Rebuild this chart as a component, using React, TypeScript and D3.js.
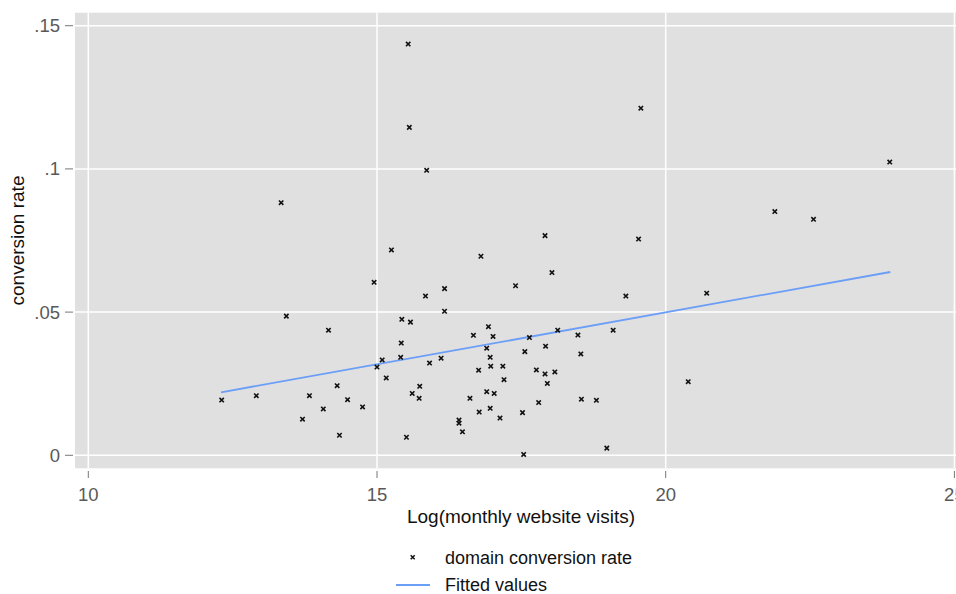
import React, { useEffect, useRef } from 'react';
import * as d3 from 'd3';

// log monthly visits vs conversion rate
const visits = [
  15.54, 15.56, 15.86, 13.34, 15.25, 14.95, 15.84, 16.17, 16.17, 13.43,
  14.16, 15.43, 15.58, 15.42, 15.41, 15.09, 15.0, 15.91, 16.11, 15.16,
  14.31, 15.74, 15.61, 15.73, 12.31, 12.91, 13.83, 14.49, 14.07, 14.75,
  13.71, 14.35, 15.51, 17.91, 19.53, 16.8, 18.03, 17.4, 19.31, 16.93,
  16.67, 17.01, 18.13, 18.48, 19.09, 17.64, 16.9, 17.92, 17.56, 18.53,
  16.96, 16.97, 17.18, 16.76, 17.76, 17.91, 18.08, 17.2, 17.95, 16.9,
  17.03, 16.61, 18.54, 18.8, 17.8, 16.77, 16.96, 17.52, 17.13, 16.42,
  16.42, 16.48, 17.54, 18.98, 20.39, 19.57, 23.88, 21.89, 22.56, 20.71,
];
const rates = [
  0.1436, 0.1145, 0.0995, 0.0882, 0.0717, 0.0604, 0.0556, 0.0582, 0.0503, 0.0486,
  0.0437, 0.0475, 0.0465, 0.0392, 0.0342, 0.0333, 0.0308, 0.0322, 0.0339, 0.027,
  0.0243, 0.0241, 0.0216, 0.0199, 0.0193, 0.0208, 0.0208, 0.0194, 0.0162, 0.0169,
  0.0126, 0.007, 0.0063, 0.0767, 0.0755, 0.0695, 0.0638, 0.0592, 0.0556, 0.0449,
  0.0419, 0.0415, 0.0437, 0.042, 0.0437, 0.0411, 0.0374, 0.0381, 0.0362, 0.0354,
  0.0342, 0.0311, 0.0311, 0.0297, 0.0298, 0.0284, 0.0291, 0.0264, 0.0251, 0.0222,
  0.0216, 0.0199, 0.0196, 0.0192, 0.0184, 0.0151, 0.0164, 0.0149, 0.013, 0.0123,
  0.0112, 0.0082, 0.0003, 0.0025, 0.0257, 0.1212, 0.1024, 0.0851, 0.0824, 0.0566,
];

// fitted line end points
const fitX = [12.3, 23.89];
const fitY = [0.022, 0.064];

const xTicks = [10, 15, 20, 25];
const yTicks = [0, 0.05, 0.1, 0.15];
const yTickLabels = ['0', '.05', '.1', '.15'];

const App = () => {
  const svgRef = useRef<SVGSVGElement>(null);

  useEffect(() => {
    const width = 956;
    const height = 594;
    const plot = { left: 75, right: 962, top: 12.7, bottom: 468.3 };
    const font = '"Liberation Sans", Arial, sans-serif';

    const svg = d3.select(svgRef.current)
      .attr('width', width)
      .attr('height', height);
    svg.selectAll('*').remove();

    const x = d3.scaleLinear().domain([10, 20]).range([88.3, 665.7]);
    const y = d3.scaleLinear().domain([0, 0.15]).range([455.3, 25.7]);

    svg.append('rect')
      .attr('width', width)
      .attr('height', height)
      .attr('fill', '#fff');

    // plot background
    svg.append('rect')
      .attr('x', plot.left)
      .attr('y', plot.top)
      .attr('width', plot.right - plot.left)
      .attr('height', plot.bottom - plot.top)
      .attr('fill', '#e0e0e0');

    // grid
    svg.append('g')
      .selectAll('line')
      .data(yTicks)
      .enter().append('line')
      .attr('x1', plot.left)
      .attr('x2', plot.right)
      .attr('y1', d => y(d))
      .attr('y2', d => y(d))
      .attr('stroke', '#fff')
      .attr('stroke-width', 1.5);

    svg.append('g')
      .selectAll('line')
      .data(xTicks)
      .enter().append('line')
      .attr('x1', d => x(d))
      .attr('x2', d => x(d))
      .attr('y1', plot.top)
      .attr('y2', plot.bottom)
      .attr('stroke', '#fff')
      .attr('stroke-width', 1.5);

    // y axis ticks + labels
    const yAxis = svg.append('g');
    yAxis.selectAll('line')
      .data(yTicks)
      .enter().append('line')
      .attr('x1', 65)
      .attr('x2', 73)
      .attr('y1', d => y(d))
      .attr('y2', d => y(d))
      .attr('stroke', '#777')
      .attr('stroke-width', 1);
    yAxis.selectAll('text')
      .data(yTicks)
      .enter().append('text')
      .attr('x', 60)
      .attr('y', d => y(d))
      .attr('dy', '0.35em')
      .attr('text-anchor', 'end')
      .style('font-family', font)
      .style('font-size', '18.5px')
      .attr('fill', '#595959')
      .text((d, i) => yTickLabels[i]);

    // x axis ticks + labels
    const xAxis = svg.append('g');
    xAxis.selectAll('line')
      .data(xTicks)
      .enter().append('line')
      .attr('x1', d => x(d))
      .attr('x2', d => x(d))
      .attr('y1', 471)
      .attr('y2', 478)
      .attr('stroke', '#777')
      .attr('stroke-width', 1);
    xAxis.selectAll('text')
      .data(xTicks)
      .enter().append('text')
      .attr('x', d => x(d))
      .attr('y', 495)
      .attr('dy', '0.35em')
      .attr('text-anchor', 'middle')
      .style('font-family', font)
      .style('font-size', '18.5px')
      .attr('fill', '#595959')
      .text(d => d);

    // axis titles
    svg.append('text')
      .attr('x', 521)
      .attr('y', 516)
      .attr('dy', '0.35em')
      .attr('text-anchor', 'middle')
      .style('font-family', font)
      .style('font-size', '19px')
      .attr('fill', '#111')
      .text('Log(monthly website visits)');

    svg.append('text')
      .attr('transform', 'translate(17,240.5) rotate(-90)')
      .attr('dy', '0.35em')
      .attr('text-anchor', 'middle')
      .style('font-family', font)
      .style('font-size', '19px')
      .attr('fill', '#111')
      .text('conversion rate');

    // fitted line
    const fit = fitX.map((v, i) => [v, fitY[i]] as [number, number]);
    svg.append('path')
      .datum(fit)
      .attr('d', d3.line<[number, number]>().x(d => x(d[0])).y(d => y(d[1])))
      .attr('fill', 'none')
      .attr('stroke', '#6b9ef7')
      .attr('stroke-width', 1.8);

    // scatter markers (small x)
    const cross = (cx: number, cy: number, s: number) =>
      `M${cx - s},${cy - s}L${cx + s},${cy + s}M${cx - s},${cy + s}L${cx + s},${cy - s}`;

    svg.append('g')
      .selectAll('path')
      .data(visits.map((v, i) => ({ v, r: rates[i] })))
      .enter().append('path')
      .attr('d', d => cross(x(d.v), y(d.r), 2.2))
      .attr('stroke', '#111')
      .attr('stroke-width', 1.6)
      .attr('fill', 'none');

    // legend
    const legend = svg.append('g');
    legend.append('path')
      .attr('d', cross(412.7, 557.3, 2))
      .attr('stroke', '#111')
      .attr('stroke-width', 1.5);
    legend.append('line')
      .attr('x1', 396)
      .attr('x2', 430)
      .attr('y1', 585)
      .attr('y2', 585)
      .attr('stroke', '#6b9ef7')
      .attr('stroke-width', 1.8);
    legend.selectAll('text')
      .data(['domain conversion rate', 'Fitted values'])
      .enter().append('text')
      .attr('x', 445)
      .attr('y', (d, i) => (i === 0 ? 557.3 : 585))
      .attr('dy', '0.35em')
      .style('font-family', font)
      .style('font-size', '18px')
      .attr('fill', '#111')
      .text(d => d);
  }, []);

  return (
    <svg
      ref={svgRef}
      style={{ position: 'absolute', left: 0, top: 0, display: 'block' }}
    ></svg>
  );
};

export default App;
